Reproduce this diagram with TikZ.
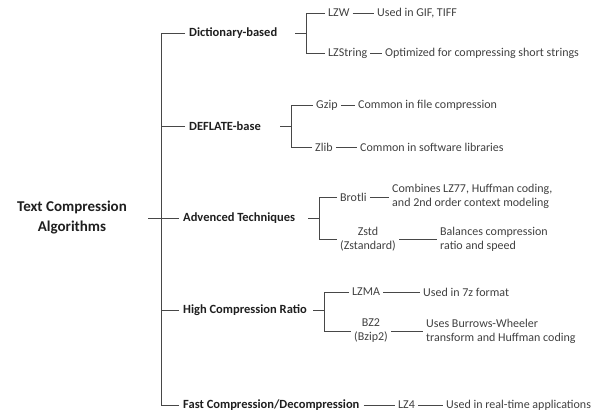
\documentclass[tikz,border=0pt]{standalone}
\usepackage{fontspec}
\setmainfont{Carlito}
\begin{document}
\begin{tikzpicture}[x=1pt,y=-1pt,
  conn/.style={draw=black!72,line width=0.8pt},
  rootnode/.style={font=\bfseries\fontsize{15}{20}\selectfont,text=black!88,align=center,inner sep=0pt},
  cat/.style={font=\bfseries\fontsize{12.5}{15}\selectfont,text=black!88,anchor=west,inner ysep=0pt,inner xsep=4pt},
  leaf/.style={font=\fontsize{12}{14}\selectfont,text=black!75,anchor=west,inner ysep=0pt,inner xsep=3pt},
  cleaf/.style={font=\fontsize{12}{14}\selectfont,text=black!75,align=center,inner ysep=0pt,inner xsep=3pt},
  desc/.style={font=\fontsize{12}{14}\selectfont,text=black!75,anchor=west,align=left,inner ysep=0pt,inner xsep=3pt}]
\useasboundingbox (0,0) rectangle (601,413);
% root
\node[rootnode] (root) at (72,218) {Text Compression\\Algorithms};
\coordinate (rs) at (148,218);
\coordinate (tr) at (161,218);
% categories
\node[cat] (dict) at (185,33) {Dictionary-based};
\node[cat] (defl) at (185,126) {DEFLATE-base};
\node[cat] (adv) at (179,218) {Advenced Techniques};
\node[cat] (high) at (179,310) {High Compression Ratio};
\node[cat] (fast) at (179,405) {Fast Compression/Decompression};
% dictionary
\coordinate (ds) at (295,33); \coordinate (db) at (306,33);
\node[leaf] (lzw) at (325,13) {LZW};
\node[desc] (lzwd) at (374,13) {Used in GIF, TIFF};
\node[leaf] (lzs) at (325,53) {LZString};
\node[desc] (lzsd) at (382,53) {Optimized for compressing short strings};
% deflate
\coordinate (fs) at (280,126); \coordinate (fb) at (291,126);
\node[leaf] (gz) at (313,105) {Gzip};
\node[desc] (gzd) at (355,105) {Common in file compression};
\node[leaf] (zl) at (312,147) {Zlib};
\node[desc] (zld) at (357,147) {Common in software libraries};
% advanced
\coordinate (as) at (308,218); \coordinate (ab) at (319,218);
\node[leaf] (br) at (337,197) {Brotli};
\node[desc] (brd) at (389,196) {Combines LZ77, Huffman coding,\\and 2nd order context modeling};
\node[cleaf] (zs) at (368,239) {Zstd\\(Zstandard)};
\node[desc] (zsd) at (437,239) {Balances compression\\ratio and speed};
% high
\coordinate (hs) at (313,310); \coordinate (hb) at (324,310);
\node[leaf] (lzma) at (349,292) {LZMA};
\node[desc] (lzmad) at (420,292) {Used in 7z format};
\node[cleaf] (bz) at (371,331) {BZ2\\(Bzip2)};
\node[desc] (bzd) at (423,331) {Uses Burrows-Wheeler\\transform and Huffman coding};
% fast
\node[leaf] (lz4) at (395,405) {LZ4};
\node[desc] (lz4d) at (443,405) {Used in real-time applications};
% connectors
\draw[conn] (rs) -- (tr);
\draw[conn] (dict.west) -| (tr);
\draw[conn] (defl.west) -| (tr);
\draw[conn] (adv.west) -- (tr);
\draw[conn] (high.west) -| (tr);
\draw[conn] (fast.west) -| (tr);
\draw[conn] (ds) -- (db);
\draw[conn] (lzw.west) -| (db);
\draw[conn] (lzs.west) -| (db);
\draw[conn] (lzw) -- (lzwd);
\draw[conn] (lzs) -- (lzsd);
\draw[conn] (fs) -- (fb);
\draw[conn] (gz.west) -| (fb);
\draw[conn] (zl.west) -| (fb);
\draw[conn] (gz) -- (gzd);
\draw[conn] (zl) -- (zld);
\draw[conn] (as) -- (ab);
\draw[conn] (br.west) -| (ab);
\draw[conn] (zs.west) -| (ab);
\draw[conn] (br.east) -- (brd.west |- br.east);
\draw[conn] (zs) -- (zsd);
\draw[conn] (hs) -- (hb);
\draw[conn] (lzma.west) -| (hb);
\draw[conn] (bz.west) -| (hb);
\draw[conn] (lzma) -- (lzmad);
\draw[conn] (bz) -- (bzd);
\draw[conn] (fast) -- (lz4);
\draw[conn] (lz4) -- (lz4d);
\end{tikzpicture}
\end{document}
